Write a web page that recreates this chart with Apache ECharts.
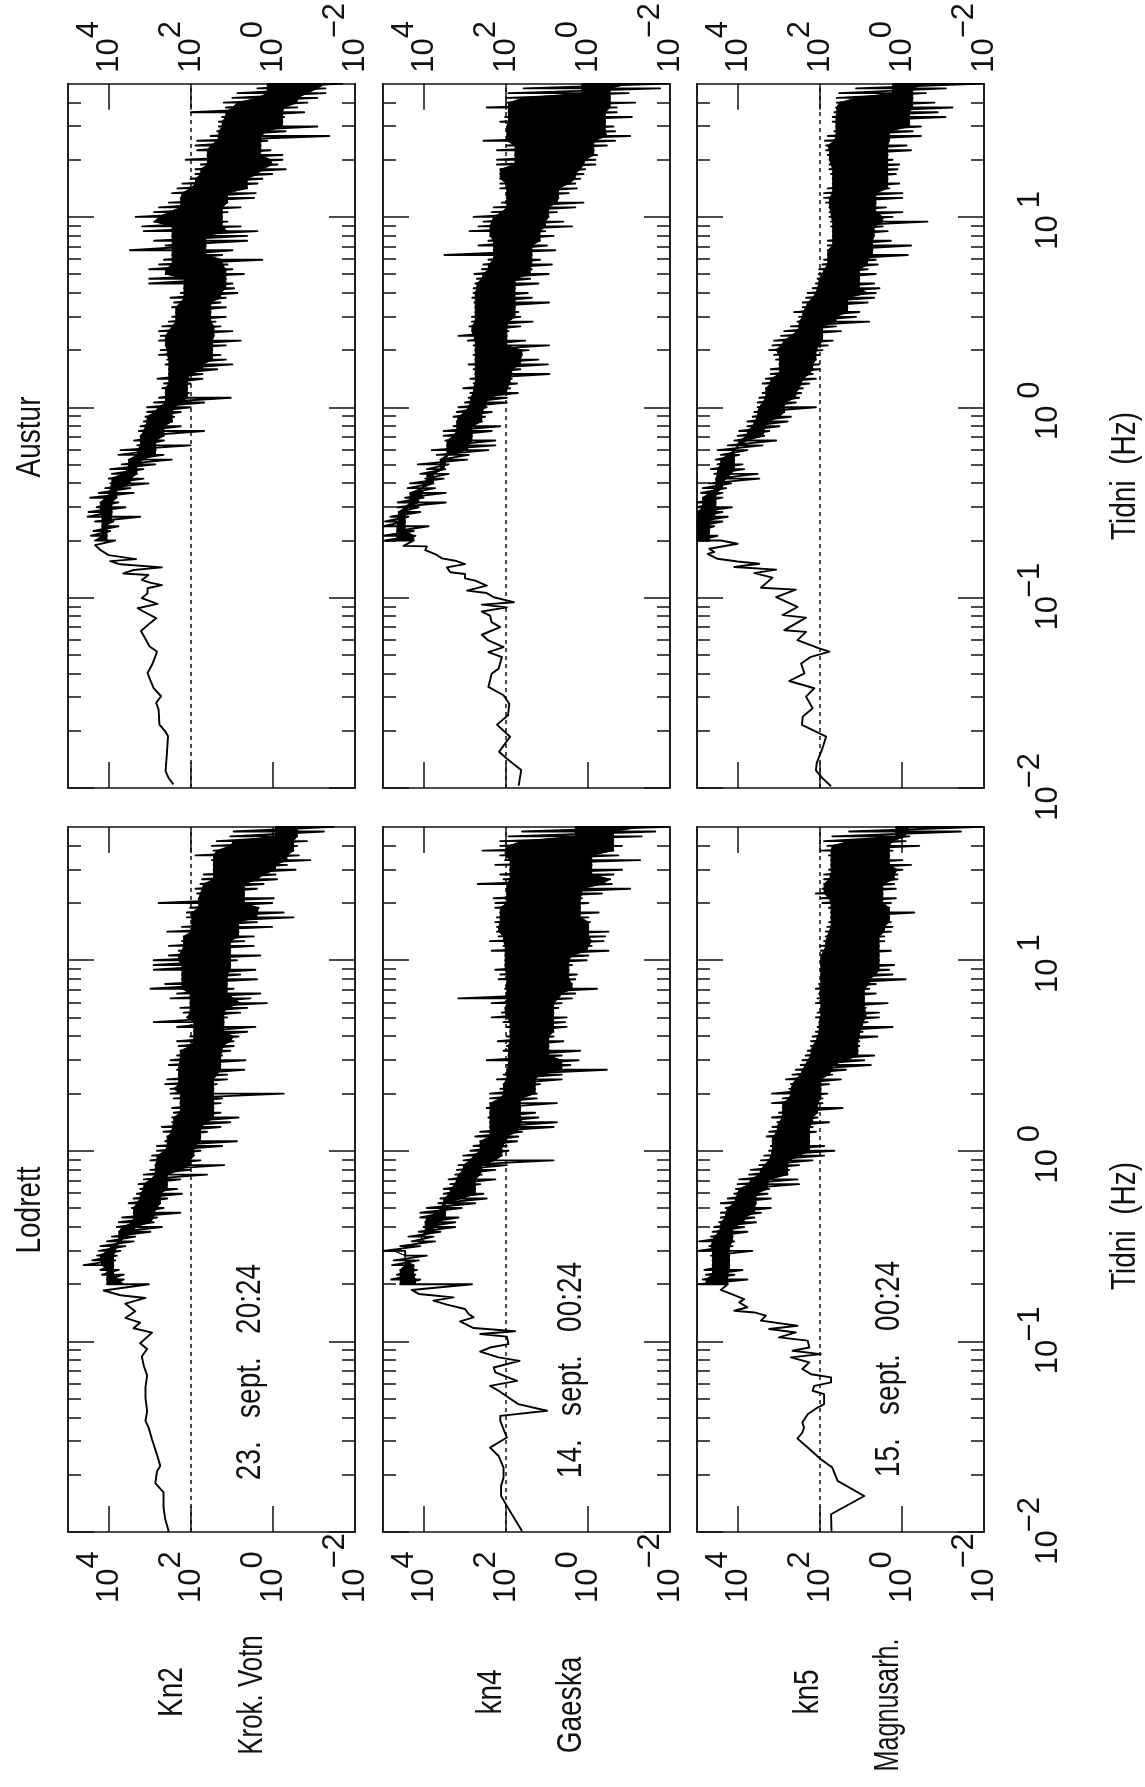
<!DOCTYPE html>
<html><head><meta charset="utf-8">
<style>html,body{margin:0;padding:0;background:#fff}#c{width:1145px;height:1787px}</style>
<script src="https://cdn.jsdelivr.net/npm/echarts@6/dist/echarts.min.js"></script>
</head><body><div id="c"></div>
<script>
// Frequency grid of the dense band, log10(Hz)
const bandLogF=[1.7,1.675,1.65,1.625,1.6,1.575,1.55,1.525,1.5,1.475,
1.45,1.425,1.4,1.375,1.35,1.325,1.3,1.275,1.25,1.225,
1.2,1.175,1.15,1.125,1.1,1.075,1.05,1.025,1,.975,
.95,.925,.9,.875,.85,.825,.8,.775,.75,.725,
.7,.675,.65,.625,.6,.575,.55,.525,.5,.475,
.45,.425,.4,.375,.35,.325,.3,.275,.25,.225,
.2,.175,.15,.125,.1,.075,.05,.025,0,-.025,
-.05,-.075,-.1,-.125,-.15,-.175,-.2,-.225,-.25,-.275,
-.3,-.325,-.35,-.375,-.4,-.425,-.45,-.475,-.5,-.525,
-.55,-.575,-.6,-.625,-.65,-.675,-.7];

// Upper and lower edge of each band, log10(power)
const austurKn2Hi=[.14,.38,.87,.99,1.2,1.15,2,1.24,1.32,1.32,
1.36,1.52,1.85,1.89,1.85,1.6,2.13,1.76,1.89,1.89,
2.01,2.21,2.33,2.46,2.25,2.54,2.78,2.9,3.35,2.9,
3.19,3.15,2.46,2.9,2.62,3.49,2.46,2.66,2.78,3.02,
2.62,3.02,3.02,2.17,2.25,2.5,2.41,2.46,2.37,2.46,
2.54,2.7,2.78,2.74,2.78,2.62,2.74,2.78,2.58,2.62,
2.54,2.54,2.82,2.66,2.7,2.62,2.78,2.9,3.07,3.07,
3.11,3.15,3.23,3.27,3.23,3.39,3.31,3.72,3.77,3.52,
3.69,3.97,3.93,4.01,3.97,4.09,4.25,4.46,4.21,4.3,
4.5,4.52,4.34,4.17,4.38,4.44,4.34];
const austurKn2Lo=[-1.69,-1.28,-1.28,-1.08,-.84,-.59,-.76,-.27,-.23,-1.08,
-.31,-1.37,.14,.3,.06,-.23,-.23,-.11,-.31,.02,
.26,.38,.63,.42,.46,1.11,.79,1.11,1.24,1.11,
.79,.38,.63,.63,1.64,.99,1.24,.26,1.11,.99,
.71,1.15,.99,.95,.87,1.15,1.28,1.15,1.52,1.15,
1.4,1.28,.99,1.44,.79,1.15,1.48,1.28,1.15,.99,
1.36,1.72,1.72,2.01,2.09,2.05,1.03,1.68,2.01,2.25,
2.41,2.46,2.25,1.68,2.66,2.66,2.01,2.86,2.67,2.47,
2.87,3.16,3.32,3.16,3.04,3.48,3.4,3.81,3.77,3.6,
3.93,3.24,3.89,3.77,3.97,4.05,3.85];
const austurKn4Hi=[.15,1.57,1.94,1.98,1.98,2.47,1.94,2.02,2.14,1.98,
1.98,1.98,2.55,1.98,2.22,1.78,2.22,2.22,2.14,2.14,
2.14,2.14,2.14,1.98,1.98,2.1,2.3,2.35,2.79,2.55,
2.67,2.89,2.39,2.43,2.67,2.3,3.5,2.43,2.55,2.59,
2.77,2.71,2.75,2.79,2.79,2.82,2.77,2.75,2.75,2.83,
2.83,2.89,2.83,3.16,2.93,2.79,2.75,2.79,2.75,2.91,
2.79,2.75,2.87,2.79,3.04,2.87,2.91,3,3.16,3.2,
3.28,3.2,3.28,3.52,3.52,3.48,3.44,3.81,3.69,3.6,
4.15,3.93,4.09,3.97,4.34,4.4,4.34,4.46,4.64,4.66,
4.62,4.82,4.95,4.99,4.66,4.99,4.95];
const austurKn4Lo=[-1.96,-1.76,-.99,-.54,-1.15,-.7,-.7,-1.07,-.42,-.62,
-.66,-1.03,-.66,-.46,-.14,-.22,-.18,-.18,.07,.11,
.19,.31,.27,.47,.72,.11,.31,.76,.96,.6,
.39,1.04,.84,1.17,1,.8,1.37,1.17,.88,1.37,
.96,1.41,1.21,1.78,1.47,1.37,.95,1.78,1.7,1.65,
1.35,1.65,1.94,1.98,1.53,.95,1.45,1.61,1.21,.98,
1.65,.94,1.86,1.73,1.9,1.71,1.98,1.98,2.47,2.35,
2.51,2.59,2.14,2.35,2.83,2.26,2.26,2.43,2.91,2.95,
3.4,3.48,3.4,3.52,3.77,3.73,3.47,4.01,3.47,4.13,
4.09,4.38,4.46,3.89,4.25,4.21,4.25];
const austurKn5Hi=[.23,1.12,1.53,1.59,1.59,1.61,1.65,1.69,1.69,1.61,
1.65,1.81,1.88,1.85,1.85,1.81,1.77,1.77,1.77,1.73,
1.69,1.69,1.81,1.9,1.9,1.85,1.77,1.77,1.77,1.73,
1.73,1.69,1.69,1.81,1.81,1.81,1.81,1.9,1.94,2.02,
2.03,2.06,2.1,2.18,2.3,2.34,2.42,2.42,2.63,2.51,
2.55,2.71,2.87,2.95,3.12,3.16,3.24,3.12,3.07,2.99,
3.2,3.2,3.32,3.4,3.32,3.4,3.48,3.52,3.52,3.6,
3.64,3.77,3.77,3.97,4.01,4.09,4.25,4.5,4.42,4.54,
4.5,4.66,4.58,4.54,4.7,4.86,4.9,4.86,4.99,4.99,
4.99,4.99,4.99,4.99,4.99,4.99,4.99];
const austurKn5Lo=[-1.97,-1.07,-.58,-.26,-.79,-1.23,-.87,-1.06,-.18,-.46,
-.26,-.46,.31,-.11,-.22,.35,.23,.07,.11,.15,
.35,.07,.31,-.01,-.01,.64,.39,-.01,.23,-.62,
.47,.35,.68,.27,-.22,.72,-.14,.64,.59,.84,
.64,1.04,.68,.55,.64,.68,.84,1.33,1.04,1.12,
.8,1.61,1.49,1.94,1.69,1.81,1.94,2.02,2.1,2.02,
2.02,2.18,2.1,2.26,2.42,2.46,2.51,2.59,2.1,2.87,
2.71,2.79,2.99,3.24,3.36,3.07,3.4,3.77,3.97,4.09,
3.89,3.85,3.52,3.48,4.17,4.29,4.38,4.38,4.54,4.15,
4.38,4.25,4.38,4.58,4.7,4.5,4.42];
const lodrettKn2Hi=[-.06,.96,1.04,1.37,1.49,1.45,1.89,1.49,1.45,1.45,
1.69,1.73,1.77,1.89,1.85,1.81,2.79,2.02,2.1,2.1,
1.98,2.22,2.58,2.18,2.22,2.54,2.3,2.54,2.91,2.91,
2.91,2.22,2.22,2.63,2.99,2.34,2.5,2.02,2.26,2.18,
2.1,2.91,2.34,1.93,2.02,2.34,2.3,2.26,2.34,2.5,
2.54,2.34,2.3,2.58,2.63,2.5,2.5,2.42,2.26,2.46,
2.42,2.46,2.46,2.71,2.67,2.58,2.63,2.83,2.83,2.95,
2.99,2.87,2.99,3.15,3.15,3.28,3.24,3.32,3.4,3.52,
3.44,3.4,3.68,3.76,3.81,3.76,3.93,4.05,4.21,4.25,
4.29,4.41,4.62,4.21,4.17,4.05,4.05];
const lodrettKn2Lo=[-1.48,-1.24,-.59,-.83,-.59,-.5,-.63,-.91,-.34,-.55,
-.06,-.1,.23,.39,.7,-.02,.02,.35,-.26,-.5,
.39,.02,.84,.47,.7,.47,1.04,.31,.88,1.04,
.43,.8,.39,1.12,.96,.31,.55,.15,.63,.8,
1.12,1.2,.43,.63,.84,.96,.96,1.04,1.24,.67,
1.28,.7,1.12,1.12,1.37,1.45,-.26,1.24,1.28,1.45,
1.28,.84,1.04,1.28,1.61,1.77,.88,1.24,1.77,1.93,
1.77,1.19,2.02,1.61,2.26,2.58,2.34,2.22,2.58,2.75,
2.67,2.26,2.83,2.91,2.71,2.99,3.36,3.4,3.6,3.72,
3.81,3.85,3.89,3.76,3.64,3.64,3.03];
const lodrettKn4Hi=[.31,1.61,1.94,2.14,2.14,2.57,2.14,2.02,2.26,1.9,
2.14,2.06,2.69,1.98,1.98,2.3,2.26,2.26,2.14,2.22,
2.26,2.22,2.22,2.18,2.39,2.06,2.35,2.02,2.02,2.02,
2.26,2.14,2.18,1.98,2.02,1.98,3.16,2.35,2.02,2.1,
2.35,2.06,1.98,1.9,1.98,2.2,1.98,2.06,1.94,2.47,
1.98,1.98,2.06,2.22,2.06,2.14,2.39,2.39,2.39,2.47,
2.39,2.43,2.39,2.39,2.63,2.75,2.63,2.79,2.87,3.04,
3.04,3.16,3.2,3.24,3.4,3.36,3.52,3.52,3.6,3.65,
3.93,4.09,4.09,3.97,4.01,4.13,4.38,4.3,4.58,4.99,
4.46,4.74,4.78,4.58,4.66,4.8,4.58];
const lodrettKn4Lo=[-1.96,-1.64,-1.31,-.62,-.83,-.62,-.74,-1.27,-.09,-.83,
-.62,-.54,-.58,-1.03,-.34,.15,-.01,.19,-.26,-.01,
-.05,-.01,-.5,-.42,-.38,-.09,-.5,-.01,.03,.39,
.47,.27,.31,.39,-.22,.31,.39,.64,.72,.84,
.52,.56,.52,.84,.84,.6,.96,.19,.64,.23,
.43,-.46,.64,.64,1.17,1.29,1.25,1.25,.76,1.65,
1.29,1.21,.76,.84,1.61,1.7,1.73,1.98,1.94,2.1,
.84,1.98,2.26,2.59,2.26,2.63,2.75,2.55,2.47,2.75,
3.08,3.48,3.16,3.24,3.24,3.6,3.77,3.73,4.09,4.46,
3.93,4.13,4.25,4.17,4.21,4.09,2.83];
const lodrettKn5Hi=[.15,1.29,1.7,1.9,1.82,1.98,1.78,1.73,1.73,1.78,
1.9,1.9,1.9,1.94,2.1,1.98,1.94,1.78,1.73,1.73,
1.78,1.82,1.86,1.86,1.9,1.98,1.98,1.98,1.98,1.98,
1.98,1.98,1.98,2.02,2.1,2.02,2.06,2.1,1.98,2.06,
2.1,2.02,2.06,2.1,2.18,2.22,2.22,2.3,2.35,2.43,
2.47,2.59,2.67,2.83,2.71,2.75,3.17,2.91,3.17,2.91,
3,3.17,3.04,3.16,3.24,3.3,3.16,3.2,3.24,3.36,
3.44,3.48,3.69,3.73,3.97,4.01,4.05,4.09,4.25,4.42,
4.3,4.42,4.42,4.46,4.58,4.62,4.66,4.95,4.7,4.99,
4.66,4.62,4.62,4.82,4.78,4.86,4.95];
const lodrettKn5Lo=[-1.96,-1.44,-.18,-.09,-.42,.23,.31,-.01,-.22,-.01,
.11,.11,.19,.15,.47,.15,.27,.31,-.3,.31,
.27,.23,.27,.43,.43,.56,.27,.56,.56,.19,
.31,.23,-.09,.64,.8,.64,.92,.35,.88,.56,
.56,.84,.23,.96,.6,1.04,1.04,1.08,.68,.92,
.76,1.37,1.7,1.49,1.78,1.98,1.82,1.94,1.94,1.45,
2.06,2.06,1.78,2.18,2.1,2.26,2.26,1.9,1.65,1.9,
2.18,2.51,2.75,2.79,2.55,2.51,3.24,3.28,3.2,3.56,
3.2,3.44,3.6,3.56,3.85,3.77,4.13,4.09,4.13,3.65,
4.21,4.21,4.21,3.89,4.09,3.77,4.25];

// Sparse low-frequency trace below the band: log10(Hz), log10(power)
const austurKn2LowF=[-.724,-.75,-.777,-.798,-.808,-.825,-.841,-.855,-.873,-.881,-.907,-.921,-.934,-.951,-.977,-1.003,-1.033,-1.056,-1.073,-1.108,-1.134,-1.175,-1.213,-1.257,-1.283,-1.309,-1.353,-1.396,-1.44,-1.475,-1.518,-1.553,-1.588,-1.667,-1.702,-1.728,-1.824,-1.911,-1.946,-1.981];
const austurKn2LowV=[4.34,4.21,4.01,3.34,3.97,3.73,2.71,3.4,3.65,3.04,3.2,3,2.71,3.06,3.06,3.2,2.82,3.3,3.16,2.85,3,3.22,3.12,3.01,2.83,2.87,2.95,3.06,2.98,2.91,2.73,2.85,2.79,2.77,2.63,2.56,2.59,2.62,2.55,2.43];
const austurKn4LowF=[-.728,-.731,-.75,-.771,-.794,-.806,-.824,-.841,-.867,-.876,-.899,-.911,-.937,-.963,-.976,-.998,-1.024,-1.037,-1.051,-1.073,-1.094,-1.129,-1.155,-1.195,-1.225,-1.26,-1.286,-1.312,-1.373,-1.4,-1.469,-1.513,-1.557,-1.618,-1.667,-1.731,-1.81,-1.853,-1.906,-1.988];
const austurKn4LowV=[4.5,3.93,3.97,3.73,3.56,3.24,3,3.44,3.36,3,3,2.75,2.47,2.95,2.47,2.3,1.81,2.59,1.98,2.59,2.39,2.35,2.14,2.59,2.43,2.06,2.43,2.1,2.18,2.35,2.43,2.06,1.92,1.95,2.22,1.9,2.17,1.94,1.63,1.69];
const austurKn5LowF=[-.717,-.743,-.761,-.77,-.796,-.81,-.822,-.839,-.853,-.871,-.895,-.948,-.958,-.997,-1.049,-1.092,-1.105,-1.171,-1.18,-1.223,-1.267,-1.284,-1.311,-1.346,-1.398,-1.438,-1.476,-1.52,-1.581,-1.625,-1.668,-1.73,-1.791,-1.869,-1.907,-1.948,-1.991];
const austurKn5LowV=[4.01,4.7,4.58,4.74,4.5,4.01,3.48,4.09,3.07,3.6,3.16,3.44,2.59,3.07,2.55,2.91,2.34,2.87,2.34,2.55,2.02,1.77,2.22,2.46,2.38,2.75,2.14,2.34,2.18,2.42,2.44,1.85,1.94,2.08,2.1,1.94,1.73];
const lodrettKn2LowF=[-.733,-.758,-.772,-.802,-.842,-.877,-.901,-.931,-.954,-1.01,-1.04,-1.079,-1.129,-1.178,-1.238,-1.297,-1.366,-1.416,-1.455,-1.515,-1.594,-1.653,-1.683,-1.743,-1.792,-1.871,-1.931,-2];
const lodrettKn2LowV=[4.13,3.72,3.11,3.6,3.36,3.6,3.24,3.4,2.95,3.24,3.07,3.2,3.15,3.07,3.11,3.11,3.07,3.11,3.03,2.95,2.83,2.75,2.83,2.87,2.67,2.67,2.63,2.54];
const lodrettKn4LowF=[-.73,-.751,-.769,-.786,-.807,-.83,-.856,-.874,-.895,-.93,-.947,-.961,-.975,-1.014,-1.032,-1.054,-1.084,-1.102,-1.137,-1.163,-1.207,-1.233,-1.259,-1.294,-1.329,-1.364,-1.391,-1.417,-1.461,-1.504,-1.557,-1.601,-1.662,-1.715,-1.758,-1.811,-1.863,-1.995];
const lodrettKn4LowV=[4.3,4.13,3.28,3.77,3.44,3,2.91,2.79,3.12,2.79,1.78,2.63,1.98,1.94,2.39,2.63,2.18,1.67,2.3,2.26,1.73,2.39,2.18,1.94,1.7,1,2.14,2.14,2.06,1.98,2.39,2.18,2.06,2.06,2.12,2.12,1.98,1.61];
const lodrettKn5LowF=[-.73,-.751,-.778,-.795,-.821,-.839,-.848,-.865,-.891,-.918,-.935,-.953,-.979,-.996,-1.032,-1.049,-1.067,-1.084,-1.11,-1.145,-1.172,-1.189,-1.215,-1.233,-1.259,-1.277,-1.329,-1.347,-1.382,-1.426,-1.452,-1.478,-1.51,-1.557,-1.618,-1.662,-1.732,-1.811,-1.907,-1.995];
const lodrettKn5LowV=[4.42,4.17,3.85,3.97,3.77,4.09,3.6,3.32,3.44,2.55,3.24,2.59,3,2.3,2.26,2.67,1.98,2.71,2.26,2.43,2.22,1.73,1.73,2.14,2.18,1.9,1.9,2.06,2.3,2.43,2.39,2.43,2.55,2.3,1.98,1.7,1.57,.92,1.73,1.72];

// Axis ticks
const powerTicks=[10000,100,1];
const powerLabels=[10000,100,1,.01];
const freqMajorTicks=[.01,.1,1,10];
const freqMinorTicks=[.02,.03,.04,.05,.06,.07,.08,.09,.2,.3,.4,.5,.6,.7,.8,.9,2,3,4,5,6,7,8,9,20,30,40];
const referenceLevel=100;

const panels=[
 {hi:austurKn2Hi,lo:austurKn2Lo,lf:austurKn2LowF,lv:austurKn2LowV,col:0,row:0},
 {hi:austurKn4Hi,lo:austurKn4Lo,lf:austurKn4LowF,lv:austurKn4LowV,col:0,row:1},
 {hi:austurKn5Hi,lo:austurKn5Lo,lf:austurKn5LowF,lv:austurKn5LowV,col:0,row:2},
 {hi:lodrettKn2Hi,lo:lodrettKn2Lo,lf:lodrettKn2LowF,lv:lodrettKn2LowV,col:1,row:0},
 {hi:lodrettKn4Hi,lo:lodrettKn4Lo,lf:lodrettKn4LowF,lv:lodrettKn4LowV,col:1,row:1},
 {hi:lodrettKn5Hi,lo:lodrettKn5Lo,lf:lodrettKn5LowF,lv:lodrettKn5LowV,col:1,row:2}
];
const rowLeft=[68,383,697], colTop=[83,827], panelW=287, panelH=705;
const FONT='"Liberation Sans",sans-serif', INK='#111';
const P=v=>Math.pow(10,v);
const lineS={show:true,onZero:false,lineStyle:{color:INK,width:1.5}};
const expStr=v=>{const e=Math.round(Math.log10(v));return (e<0?'\u2212':'')+Math.abs(e);};

function xLabel(rot,margin){
  return {customValues:powerLabels,show:true,rotate:rot,margin,align:'left',verticalAlign:'middle',fontFamily:FONT,fontSize:31,color:INK,
    formatter:v=>'{b|10}{s|'+expStr(v)+'}',
    rich:{b:{fontFamily:FONT,fontSize:31,color:INK,padding:[20,0,20,0]},s:{fontFamily:FONT,fontSize:31,color:INK,padding:[0,0,40,0]}}};
}
const grid=[],xAxis=[],yAxis=[],series=[];
panels.forEach((p,i)=>{
  grid.push({left:rowLeft[p.row],top:colTop[p.col],width:panelW,height:panelH,containLabel:false});
  const xBase={type:'log',logBase:10,min:.01,max:100000,inverse:true,gridIndex:i,splitLine:{show:false},axisLine:lineS,
    axisTick:{show:true,inside:true,length:26,customValues:powerTicks,lineStyle:{color:INK,width:1.5}}};
  const xi=xAxis.length;
  xAxis.push(Object.assign({},xBase,{position:'bottom',axisLabel:p.col===1?xLabel(90,71):{show:false}}));
  xAxis.push(Object.assign({},xBase,{position:'top',axisLabel:p.col===0?xLabel(-90,11):{show:false}}));
  const yBase={type:'log',logBase:10,min:.01,max:50,gridIndex:i,splitLine:{show:false},axisLine:lineS};
  const yi=yAxis.length;
  const yLabel=p.row===2?{show:true,customValues:freqMajorTicks,rotate:90,align:'center',verticalAlign:'top',margin:31,
    formatter:v=>'{b|10}{s|'+expStr(v)+'}',
    rich:{b:{fontFamily:FONT,fontSize:31,color:INK,padding:[18,0,0,0]},s:{fontFamily:FONT,fontSize:31,color:INK,width:31,align:'left',padding:[0,0,18,0]}}}:{show:false};
  yAxis.push(Object.assign({},yBase,{position:'left',axisLabel:{show:false},axisTick:{show:true,inside:true,length:26,customValues:freqMajorTicks,lineStyle:{color:INK,width:1.5}}}));
  yAxis.push(Object.assign({},yBase,{position:'left',axisLabel:{show:false},axisTick:{show:true,inside:true,length:13,customValues:freqMinorTicks,lineStyle:{color:INK,width:1.5}}}));
  yAxis.push(Object.assign({},yBase,{position:'right',axisLabel:yLabel,axisTick:{show:true,inside:true,length:26,customValues:freqMajorTicks,lineStyle:{color:INK,width:1.5}}}));
  yAxis.push(Object.assign({},yBase,{position:'right',axisLabel:{show:false},axisTick:{show:true,inside:true,length:13,customValues:freqMinorTicks,lineStyle:{color:INK,width:1.5}}}));
  // reference level
  series.push({type:'line',xAxisIndex:xi,yAxisIndex:yi,data:[[referenceLevel,.01],[referenceLevel,50]],showSymbol:false,silent:true,
    lineStyle:{color:INK,width:1.5,type:[4,4]},z:1,animation:false});
  // solid core of the band: edges with the single-sample spikes taken off
  const n=bandLogF.length,core=[],R=2;
  for(let k=0;k<n;k++){
    let h=Infinity,l=-Infinity;
    for(let j=Math.max(k-R,0);j<=Math.min(k+R,n-1);j++){h=Math.min(h,p.hi[j]);l=Math.max(l,p.lo[j]);}
    if(h<l){h=l=(p.hi[k]+p.lo[k])/2;}
    core.push([h,l]);
  }
  series.push({type:'custom',coordinateSystem:'cartesian2d',xAxisIndex:xi,yAxisIndex:yi,data:[[1,1]],clip:false,silent:true,animation:false,z:2,
    renderItem:(params,api)=>{
      const pts=[];
      for(let k=0;k<n;k++)pts.push(api.coord([P(core[k][0]),P(bandLogF[k])]));
      for(let k=n-1;k>=0;k--)pts.push(api.coord([P(core[k][1]),P(bandLogF[k])]));
      return {type:'polygon',shape:{points:pts},style:{fill:'#000',stroke:'#000',lineWidth:1}};
    }});
  // trace: zig-zag through the band, then the sparse low-frequency part
  const trace=[];
  for(let k=0;k<n;k++){trace.push([P(p.hi[k]),P(bandLogF[k])]);trace.push([P(p.lo[k]),P(bandLogF[k])]);}
  p.lf.forEach((f,k)=>trace.push([P(p.lv[k]),P(f)]));
  series.push({type:'line',xAxisIndex:xi,yAxisIndex:yi,data:trace,showSymbol:false,silent:true,
    lineStyle:{color:'#000',width:1.9,join:'round'},z:3,animation:false,clip:true});
});
const txt=(text,x,y,sx)=>({type:'text',x,y,rotation:Math.PI/2,scaleX:sx||.8,silent:true,
  style:{text,fontFamily:FONT,fontSize:35,fill:INK,textAlign:'center',textVerticalAlign:'middle'}});
const chart=echarts.init(document.getElementById('c'),null,{renderer:'canvas',width:1145,height:1787});
chart.setOption({animation:false,backgroundColor:'#fff',grid,xAxis,yAxis,series,
  graphic:[
    txt('Austur',30,437),txt('Lodrett',30,1210),
    txt('Tidni  (Hz)',1125,476),txt('Tidni  (Hz)',1125,1226),
    txt('23.   sept.   20:24',250,1372),txt('14.   sept.   00:24',571,1370),txt('15.   sept.   00:24',889,1369),
    txt('Kn2',172,1692),txt('Krok. Votn',252,1695,.74),
    txt('kn4',491,1692),txt('Gaeska',571,1705,.8),
    txt('kn5',808,1692),txt('Magnusarh.',888,1705,.72)
  ]});
</script></body></html>
